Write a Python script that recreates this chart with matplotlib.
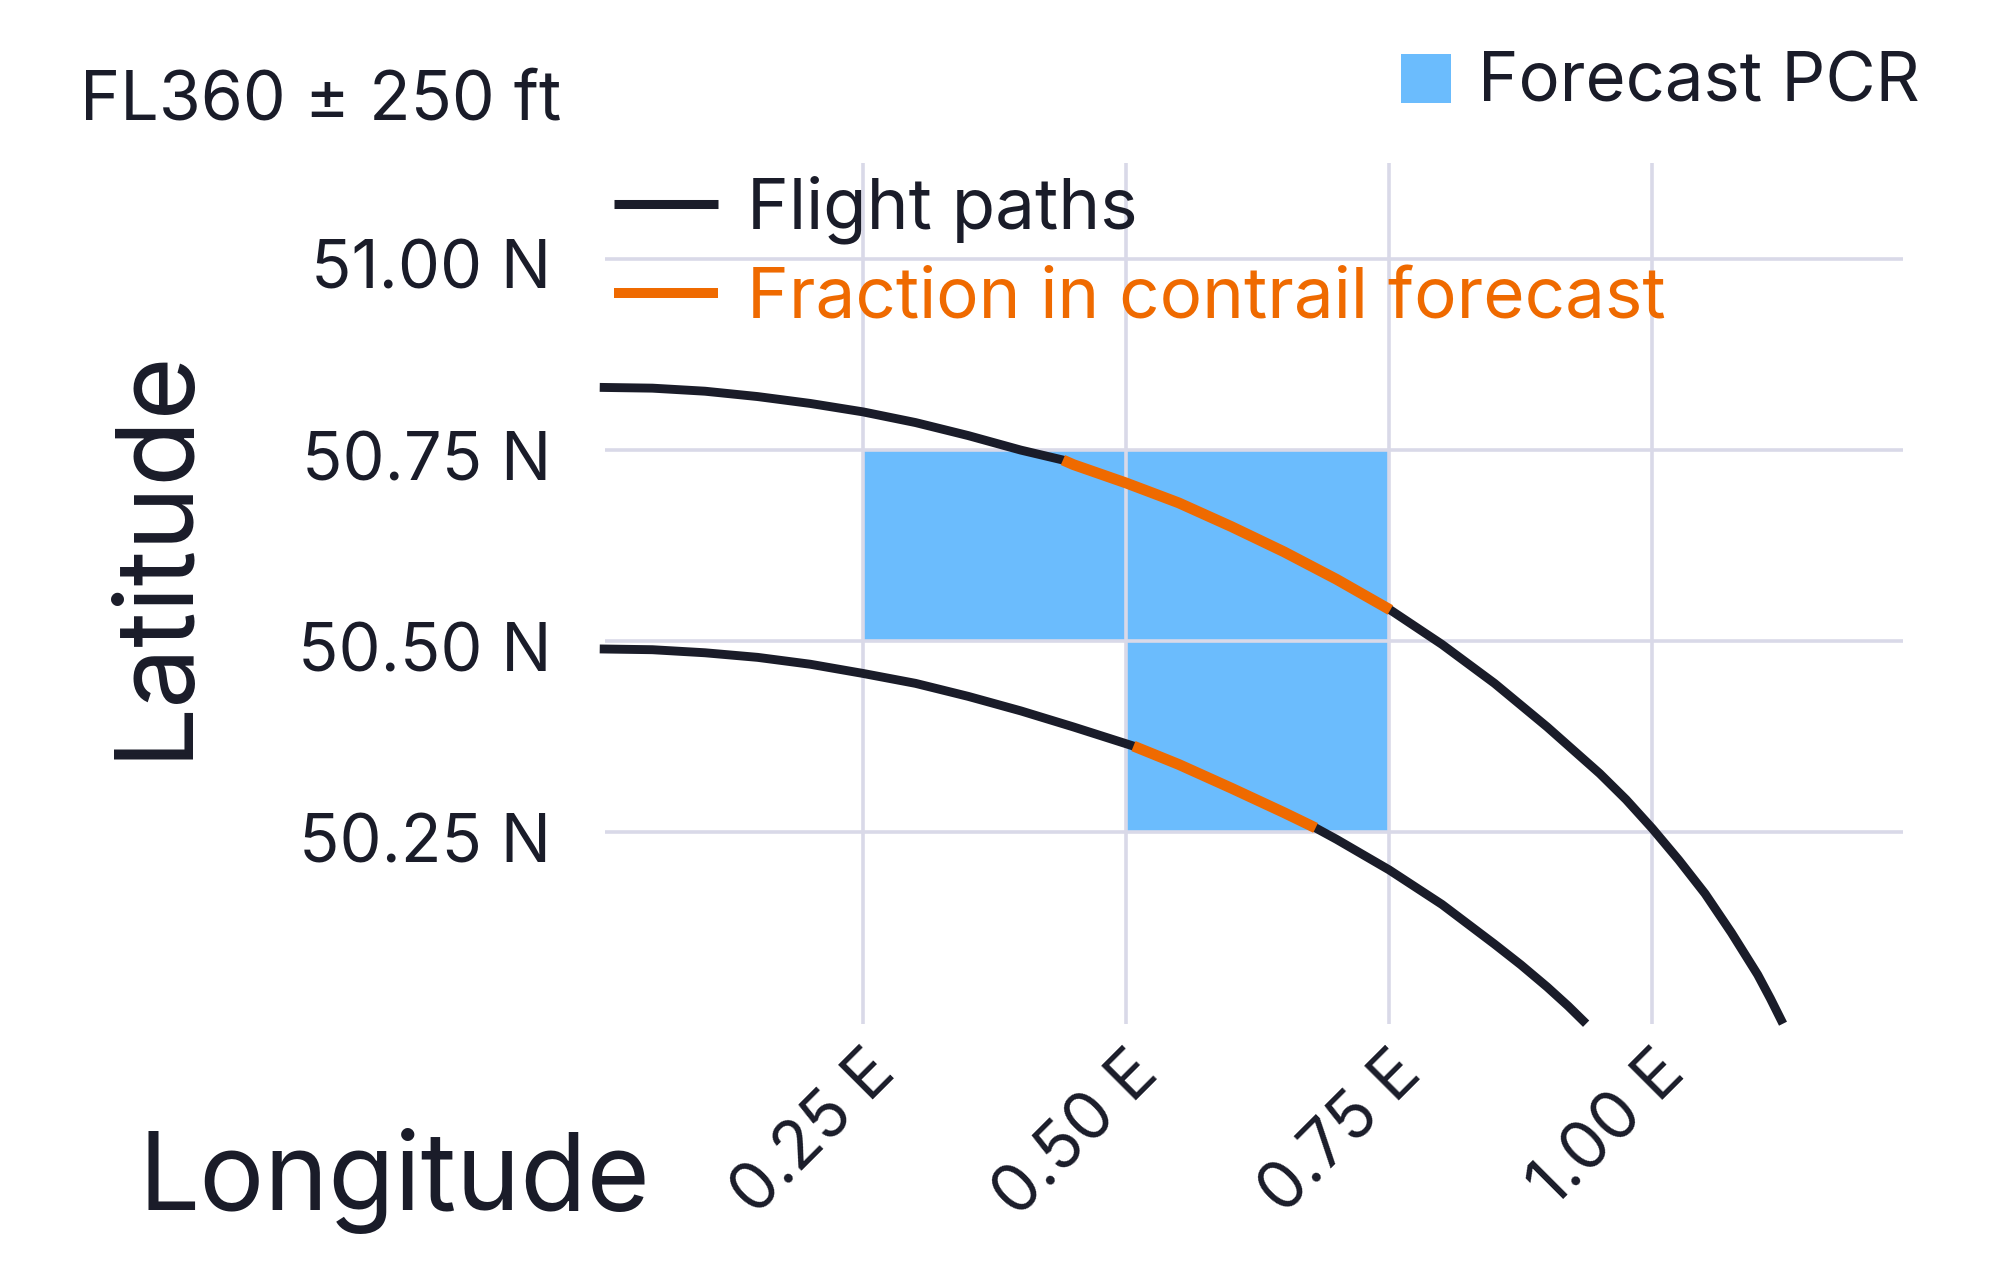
import matplotlib
matplotlib.use("Agg")
import matplotlib.pyplot as plt
from matplotlib.lines import Line2D
from matplotlib.patches import Rectangle
from matplotlib.transforms import ScaledTranslation

plt.rcParams['font.family'] = ['Inter', 'DejaVu Sans']

# ---------------- data ----------------
lon_ticks = [0.25, 0.50, 0.75, 1.00]
lon_labels = ['0.25 E', '0.50 E', '0.75 E', '1.00 E']
lat_ticks = [50.25, 50.50, 50.75, 51.00]
lat_labels = ['50.25 N', '50.50 N', '50.75 N', '51.00 N']

# forecast persistent contrail region cells (lower-left corners), cell size 0.25 deg
pcr_cell_lon = [0.25, 0.50, 0.50]
pcr_cell_lat = [50.50, 50.50, 50.25]
cell_size = 0.25

# flight path 1 (upper)
path1_lon = [0.000, 0.050, 0.100, 0.150, 0.200, 0.250, 0.300, 0.350, 0.400, 0.440,
             0.450, 0.500, 0.550, 0.600, 0.650, 0.700, 0.751, 0.800, 0.850, 0.900,
             0.950, 0.975, 1.000, 1.025, 1.050, 1.075, 1.100, 1.112, 1.124]
path1_lat = [50.832, 50.831, 50.827, 50.820, 50.811, 50.800, 50.786, 50.769, 50.750, 50.737,
             50.731, 50.707, 50.681, 50.650, 50.617, 50.581, 50.541, 50.496, 50.445, 50.388,
             50.327, 50.293, 50.255, 50.214, 50.170, 50.119, 50.064, 50.033, 50.000]
path1_in_forecast = [0.440, 0.751]   # lon range inside the forecast

# flight path 2 (lower)
path2_lon = [0.000, 0.050, 0.100, 0.150, 0.200, 0.250, 0.300, 0.350, 0.400, 0.450,
             0.507, 0.550, 0.600, 0.650, 0.680, 0.700, 0.750, 0.800, 0.850, 0.875,
             0.900, 0.920, 0.937]
path2_lat = [50.490, 50.489, 50.485, 50.479, 50.470, 50.458, 50.445, 50.428, 50.409, 50.388,
             50.363, 50.339, 50.308, 50.276, 50.256, 50.241, 50.201, 50.156, 50.104, 50.077,
             50.048, 50.023, 50.000]
path2_in_forecast = [0.507, 0.680]

# ---------------- style ----------------
DARK = '#1a1c29'
ORANGE = '#ef6a00'
BLUE = '#6bbcfd'
GRID = '#d9d9e8'

W, H = 2000, 1283
fig = plt.figure(figsize=(W / 100, H / 100), dpi=100)
ax = fig.add_axes([605 / W, 1 - 1023.7 / H, (1903 - 605) / W, (1023.7 - 163.3) / H])

for lo, la in zip(pcr_cell_lon, pcr_cell_lat):
    ax.add_patch(Rectangle((lo, la), cell_size, cell_size, facecolor=BLUE,
                           edgecolor='none', zorder=1))

def draw_path(lons, lats, rng):
    ax.plot(lons, lats, color=DARK, lw=6.4, solid_capstyle='butt',
            solid_joinstyle='round', zorder=3, clip_on=False)
    sel = [(x, y) for x, y in zip(lons, lats) if rng[0] - 1e-9 <= x <= rng[1] + 1e-9]
    ax.plot([p[0] for p in sel], [p[1] for p in sel], color=ORANGE, lw=7.8,
            solid_capstyle='butt', solid_joinstyle='round', zorder=4)

draw_path(path1_lon, path1_lat, path1_in_forecast)
draw_path(path2_lon, path2_lat, path2_in_forecast)

ax.set_xlim(0.005, 1.238)
ax.set_ylim(50.0, 51.125)
ax.set_axisbelow('line')
ax.grid(True, color=GRID, lw=2.6)
for s in ax.spines.values():
    s.set_visible(False)

ax.set_xticks(lon_ticks, lon_labels)
ax.set_yticks(lat_ticks, lat_labels)
ax.tick_params(axis='both', length=0, labelsize=48, labelcolor=DARK)
ax.tick_params(axis='x', pad=52 * 0.72)
ax.tick_params(axis='y', pad=54 * 0.72)
for lbl in ax.get_xticklabels():
    lbl.set_rotation(45)
    lbl.set_rotation_mode('anchor')
    lbl.set_ha('right')
    lbl.set_va('baseline')
    lbl.set_transform(lbl.get_transform() + ScaledTranslation(0.35, 0, fig.dpi_scale_trans))
for lbl in ax.get_yticklabels():
    lbl.set_va('baseline')
    lbl.set_transform(lbl.get_transform() + ScaledTranslation(0, -0.30, fig.dpi_scale_trans))

# axis titles
fig.text(139 / W, 1 - 1210 / H, 'Longitude', fontsize=78, color=DARK,
         ha='left', va='baseline')
fig.text(184 / W, 1 - 553 / H, 'Latitude', fontsize=78, color=DARK, rotation=90,
         rotation_mode='anchor', ha='center', va='baseline')

# header
fig.text(80 / W, 1 - 119 / H, 'FL360 ± 250 ft', fontsize=49, color=DARK,
         ha='left', va='baseline')
fig.patches.append(Rectangle((1401 / W, 1 - 103 / H), 50 / W, 49 / H,
                             transform=fig.transFigure, facecolor=BLUE, edgecolor='none'))
fig.text(1478 / W, 1 - 101.7 / H, 'Forecast PCR', fontsize=49.5, color=DARK,
         ha='left', va='baseline')

# line legend
fig.add_artist(Line2D([613.5 / W, 718 / W], [1 - 204 / H] * 2, color=DARK, lw=6.5,
                      solid_capstyle='butt', transform=fig.transFigure))
fig.add_artist(Line2D([613.5 / W, 718 / W], [1 - 293 / H] * 2, color=ORANGE, lw=7.2,
                      solid_capstyle='butt', transform=fig.transFigure))
fig.text(747 / W, 1 - 228 / H, 'Flight paths', fontsize=51, color=DARK,
         ha='left', va='baseline')
fig.text(747 / W, 1 - 318.7 / H, 'Fraction in contrail forecast', fontsize=51,
         color=ORANGE, ha='left', va='baseline')

fig.savefig('out.png', dpi=100, facecolor='white')
